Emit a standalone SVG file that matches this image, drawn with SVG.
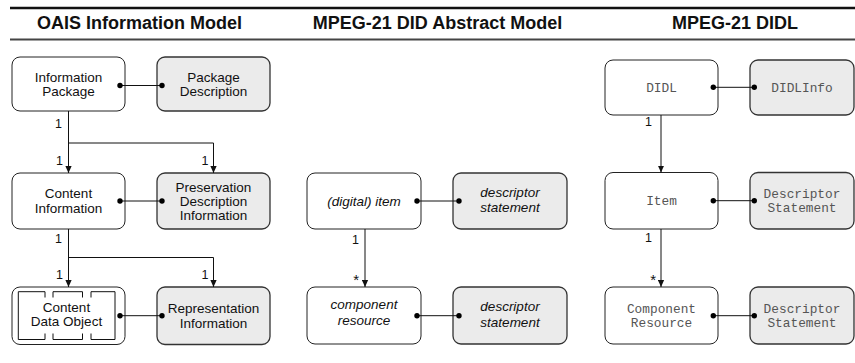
<svg xmlns="http://www.w3.org/2000/svg" width="855" height="363" viewBox="0 0 855 363">
<style>
.hd{font-family:"Liberation Sans",Arial,sans-serif;font-weight:bold;font-size:18px;fill:#111;text-anchor:middle}
.box{fill:#fff;stroke:#222;stroke-width:1}
.gbox{fill:#ebebeb;stroke:#333;stroke-width:1.3}
.t{font-family:"Liberation Sans",Arial,sans-serif;font-size:13.5px;fill:#111;text-anchor:middle}
.ti{font-family:"Liberation Sans",Arial,sans-serif;font-size:13.5px;font-style:italic;fill:#111;text-anchor:middle}
.tm{font-family:"Liberation Mono","Courier New",monospace;font-size:12.8px;fill:#555;text-anchor:middle}
.lab{font-family:"Liberation Sans",Arial,sans-serif;font-size:12.5px;fill:#111;text-anchor:end}
.star{font-family:"Liberation Sans",Arial,sans-serif;font-size:15px;fill:#111;text-anchor:end}
.ln{fill:none;stroke:#111;stroke-width:1}
.dot{fill:#000}
</style>
<defs>
<marker id="ah" viewBox="0 0 10 10" refX="10" refY="5" markerWidth="7" markerHeight="7" markerUnits="userSpaceOnUse" orient="auto">
<path d="M0,0.5 L10,5 L0,9.5 z" fill="#111"/>
</marker>
</defs>

<g id="header">
<line x1="10" y1="8" x2="855" y2="8" stroke="#111" stroke-width="2.5"/>
<line x1="10" y1="39.5" x2="855" y2="39.5" stroke="#444" stroke-width="2"/>
<text class="hd" x="139.5" y="29.3">OAIS Information Model</text>
<text class="hd" x="437.5" y="29.3">MPEG-21 DID Abstract Model</text>
<text class="hd" x="735" y="29.3">MPEG-21 DIDL</text>
</g>

<g id="information-package"><rect class="box" x="12" y="57" width="113" height="54" rx="8"/>
<text class="t" x="68.5" y="81.5">Information</text><text class="t" x="68.5" y="96">Package</text></g>
<g id="package-description"><rect class="gbox" x="157" y="57" width="113" height="54" rx="8"/>
<text class="t" x="213.5" y="81.5">Package</text><text class="t" x="213.5" y="96">Description</text></g>

<g id="content-information"><rect class="box" x="12" y="173" width="113" height="56" rx="8"/>
<text class="t" x="68.5" y="198">Content</text><text class="t" x="68.5" y="212.5">Information</text></g>
<g id="preservation-description-information"><rect class="gbox" x="157" y="173" width="113" height="56" rx="8"/>
<text class="t" x="213.5" y="191.5">Preservation</text><text class="t" x="213.5" y="206">Description</text><text class="t" x="213.5" y="220">Information</text></g>

<g id="content-data-object"><rect class="box" x="12" y="287" width="113" height="57.5" rx="8"/>
<path class="ln" d="M45,297.5 V291.7 H18.3 V339.5 H45 V333.5 M53,297.5 V291.7 H82.5 V297.5 M53,333.5 V339.5 H82.5 V333.5 M91,297.5 V291.7 H115 V339.5 H91 V333.5"/>
<text class="t" x="66.5" y="311.5">Content</text><text class="t" x="66.5" y="326">Data Object</text></g>
<g id="representation-information"><rect class="gbox" x="157" y="287" width="113" height="57.5" rx="8"/>
<text class="t" x="213.5" y="313">Representation</text><text class="t" x="213.5" y="327.5">Information</text></g>

<g id="digital-item"><rect class="box" x="307" y="173" width="114" height="56" rx="8"/>
<text class="ti" x="364" y="205.5">(digital) item</text></g>
<g id="descriptor-statement-1"><rect class="gbox" x="453" y="173" width="114" height="56" rx="8"/>
<text class="ti" x="510" y="196.5">descriptor</text><text class="ti" x="510" y="212">statement</text></g>
<g id="component-resource"><rect class="box" x="307" y="287" width="114" height="57" rx="8"/>
<text class="ti" x="364" y="309">component</text><text class="ti" x="364" y="325">resource</text></g>
<g id="descriptor-statement-2"><rect class="gbox" x="453" y="287" width="114" height="57" rx="8"/>
<text class="ti" x="510" y="311">descriptor</text><text class="ti" x="510" y="326.5">statement</text></g>

<g id="didl"><rect class="box" x="605" y="60" width="113" height="55" rx="8"/>
<text class="tm" x="661.5" y="91.7">DIDL</text></g>
<g id="didlinfo"><rect class="gbox" x="750" y="60" width="104" height="55" rx="8"/>
<text class="tm" x="802" y="91.7">DIDLInfo</text></g>
<g id="item"><rect class="box" x="605" y="172.5" width="113" height="56.5" rx="8"/>
<text class="tm" x="661.5" y="205">Item</text></g>
<g id="didl-descriptor-statement-1"><rect class="gbox" x="750" y="172.5" width="104" height="56.5" rx="8"/>
<text class="tm" x="802" y="197.8">Descriptor</text><text class="tm" x="802" y="211.8">Statement</text></g>
<g id="didl-component-resource"><rect class="box" x="605" y="287" width="113" height="57" rx="8"/>
<text class="tm" x="661.5" y="312.5">Component</text><text class="tm" x="661.5" y="326.5">Resource</text></g>
<g id="didl-descriptor-statement-2"><rect class="gbox" x="750" y="287" width="104" height="57" rx="8"/>
<text class="tm" x="802" y="312.5">Descriptor</text><text class="tm" x="802" y="326.5">Statement</text></g>

<g id="connectors">
<line class="ln" x1="120" y1="85.5" x2="162" y2="85.5"/><circle class="dot" cx="120" cy="85.5" r="2.7"/><circle class="dot" cx="162" cy="85.5" r="2.7"/>
<line class="ln" x1="120" y1="201" x2="162" y2="201"/><circle class="dot" cx="120" cy="201" r="2.7"/><circle class="dot" cx="162" cy="201" r="2.7"/>
<line class="ln" x1="120" y1="315.7" x2="162" y2="315.7"/><circle class="dot" cx="120" cy="315.7" r="2.7"/><circle class="dot" cx="162" cy="315.7" r="2.7"/>
<line class="ln" x1="417" y1="201" x2="459" y2="201"/><circle class="dot" cx="417" cy="201" r="2.7"/><circle class="dot" cx="459" cy="201" r="2.7"/>
<line class="ln" x1="417" y1="315.7" x2="459" y2="315.7"/><circle class="dot" cx="417" cy="315.7" r="2.7"/><circle class="dot" cx="459" cy="315.7" r="2.7"/>
<line class="ln" x1="713.3" y1="87.3" x2="754.3" y2="87.3"/><circle class="dot" cx="713.3" cy="87.3" r="2.7"/><circle class="dot" cx="754.3" cy="87.3" r="2.7"/>
<line class="ln" x1="713.3" y1="200.7" x2="754.3" y2="200.7"/><circle class="dot" cx="713.3" cy="200.7" r="2.7"/><circle class="dot" cx="754.3" cy="200.7" r="2.7"/>
<line class="ln" x1="713.3" y1="315.7" x2="754.3" y2="315.7"/><circle class="dot" cx="713.3" cy="315.7" r="2.7"/><circle class="dot" cx="754.3" cy="315.7" r="2.7"/>

<path class="ln" d="M68.5,111 V173" marker-end="url(#ah)"/>
<path class="ln" d="M68.5,143 H213.5 V173" marker-end="url(#ah)"/>
<path class="ln" d="M68.5,229 V287" marker-end="url(#ah)"/>
<path class="ln" d="M68.5,257.5 H213.5 V287" marker-end="url(#ah)"/>
<path class="ln" d="M365,229 V287" marker-end="url(#ah)"/>
<path class="ln" d="M661,115 V172.5" marker-end="url(#ah)"/>
<path class="ln" d="M661,229 V287" marker-end="url(#ah)"/>

<text class="lab" x="62" y="128">1</text>
<text class="lab" x="63" y="165">1</text>
<text class="lab" x="208.5" y="165">1</text>
<text class="lab" x="62" y="243">1</text>
<text class="lab" x="63" y="279">1</text>
<text class="lab" x="208.5" y="279">1</text>
<text class="lab" x="359" y="244">1</text>
<text class="star" x="359" y="285">*</text>
<text class="lab" x="652" y="126">1</text>
<text class="lab" x="652" y="241.7">1</text>
<text class="star" x="656" y="285">*</text>
</g>
</svg>
